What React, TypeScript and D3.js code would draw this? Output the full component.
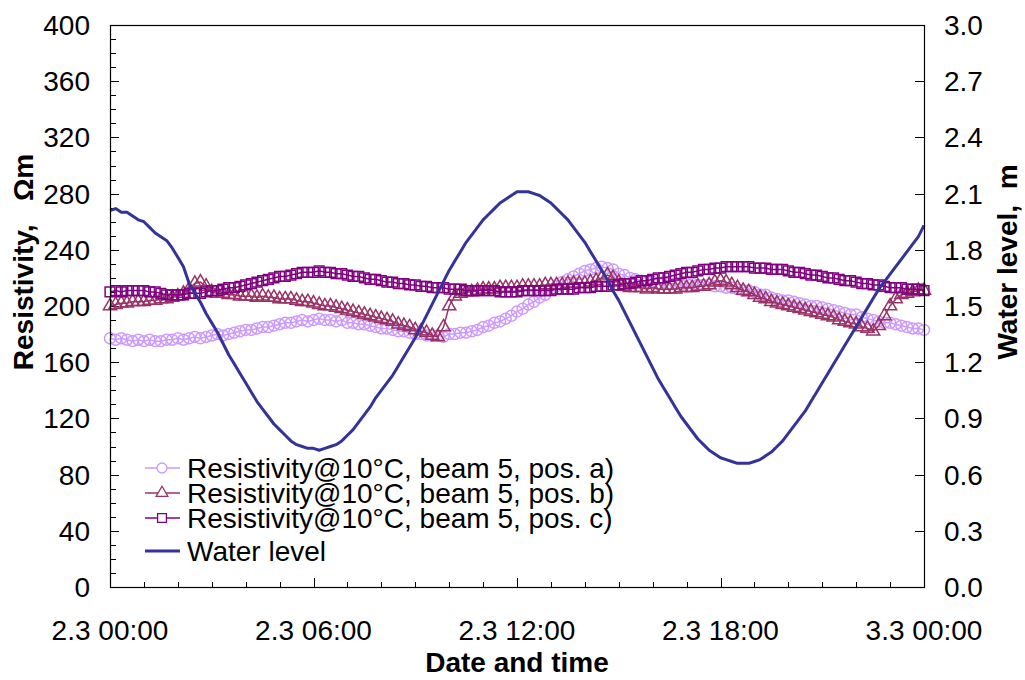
import { useEffect, useRef } from "react";
import * as d3 from "d3";

// x tick labels (every 6 hours)
const xTickLabels = ["2.3 00:00", "2.3 06:00", "2.3 12:00", "2.3 18:00", "3.3 00:00"];

// water level, m — every 10 min from 2.3 00:00 (one row per hour)
const waterLevel = [
  2.01, 2.02, 2.0, 2.0, 1.98, 1.96,
  1.95, 1.92, 1.89, 1.87, 1.85, 1.81,
  1.76, 1.71, 1.62, 1.57, 1.52, 1.46,
  1.41, 1.36, 1.3, 1.24, 1.19, 1.14,
  1.09, 1.04, 0.99, 0.95, 0.91, 0.87,
  0.84, 0.81, 0.78, 0.76, 0.75, 0.74,
  0.74, 0.73, 0.74, 0.75, 0.76, 0.78,
  0.81, 0.84, 0.88, 0.92, 0.96, 1.01,
  1.05, 1.09, 1.13, 1.18, 1.23, 1.28,
  1.33, 1.39, 1.45, 1.51, 1.57, 1.63,
  1.69, 1.74, 1.79, 1.84, 1.88, 1.92,
  1.96, 1.99, 2.02, 2.05, 2.07, 2.09,
  2.11, 2.11, 2.11, 2.1, 2.09, 2.07,
  2.05, 2.02, 1.99, 1.96, 1.92, 1.88,
  1.84, 1.79, 1.74, 1.69, 1.64, 1.58,
  1.53, 1.47, 1.41, 1.35, 1.29, 1.23,
  1.17, 1.11, 1.06, 1.01, 0.96, 0.91,
  0.87, 0.83, 0.79, 0.76, 0.73, 0.71,
  0.69, 0.68, 0.67, 0.66, 0.66, 0.66,
  0.67, 0.68, 0.7, 0.72, 0.75, 0.78,
  0.82, 0.86, 0.9, 0.94, 0.99, 1.04,
  1.09, 1.14, 1.19, 1.24, 1.29, 1.34,
  1.39, 1.44, 1.49, 1.54, 1.59, 1.63,
  1.67, 1.71, 1.75, 1.79, 1.83, 1.87,
  1.93,
];

// resistivity @10°C, Ωm — every 10 min from 2.3 00:00 (one row per hour)
const posA = [
  177, 176, 177, 176, 175, 176,
  175, 176, 175, 175, 176, 176,
  177, 176, 177, 178, 177, 178,
  179, 180, 179, 180, 181, 182,
  183, 183, 184, 185, 185, 186,
  187, 188, 188, 189, 190, 189,
  190, 191, 190, 190, 189, 190,
  188, 188, 187, 187, 186, 185,
  184, 184, 183, 182, 182, 181,
  180, 180, 179, 179, 179, 178,
  180, 180, 181, 181, 182, 183,
  185, 186, 188, 189, 191, 193,
  196, 198, 201, 203, 206, 208,
  212, 214, 217, 219, 221, 223,
  225, 226, 227, 228, 227, 226,
  223, 222, 220, 219, 218, 217,
  217, 216, 217, 216, 216, 215,
  216, 216, 215, 215, 215, 214,
  214, 213, 213, 212, 211, 211,
  210, 208, 208, 206, 205, 204,
  204, 203, 202, 201, 200, 200,
  199, 198, 197, 196, 195, 194,
  194, 192, 191, 190, 189, 188,
  188, 187, 186, 185, 184, 184,
  183,
];
const posB = [
  200, 201, 202, 202, 203, 203,
  203, 204, 204, 205, 205, 206,
  207, 209, 212, 216, 217, 214,
  210, 209, 209, 208, 208, 207,
  207, 207, 206, 207, 206, 206,
  205, 205, 205, 204, 203, 203,
  202, 201, 200, 200, 199, 198,
  197, 196, 195, 194, 193, 192,
  191, 190, 189, 187, 186, 185,
  183, 182, 181, 179, 178, 185,
  200, 207, 209, 210, 210, 211,
  212, 212, 212, 213, 213, 213,
  213, 214, 214, 214, 214, 215,
  215, 215, 215, 216, 216, 216,
  216, 217, 218, 220, 222, 220,
  217, 214, 213, 213, 213, 212,
  213, 212, 212, 212, 212, 213,
  213, 213, 214, 214, 215, 217,
  218, 217, 215, 213, 211, 210,
  208, 206, 205, 203, 202, 201,
  200, 199, 198, 197, 196, 195,
  194, 193, 192, 190, 189, 188,
  187, 185, 184, 182, 186, 193,
  200, 205, 208, 209, 210, 211,
  211,
];
const posC = [
  210, 211, 210, 211, 211, 211,
  211, 210, 210, 209, 208, 208,
  208, 208, 209, 209, 209, 210,
  211, 211, 212, 213, 213, 214,
  215, 216, 217, 218, 219, 220,
  221, 221, 222, 223, 224, 224,
  224, 225, 224, 224, 223, 223,
  222, 221, 221, 220, 219, 219,
  218, 217, 217, 216, 216, 215,
  215, 214, 214, 213, 213, 213,
  212, 212, 212, 211, 211, 211,
  211, 211, 211, 210, 210, 210,
  210, 211, 211, 211, 211, 211,
  211, 212, 212, 212, 212, 213,
  213, 213, 214, 214, 214, 215,
  215, 216, 216, 217, 218, 218,
  219, 220, 220, 221, 222, 223,
  224, 224, 225, 226, 226, 227,
  227, 228, 228, 228, 228, 228,
  227, 227, 227, 226, 226, 226,
  225, 224, 224, 223, 222, 222,
  221, 220, 220, 219, 218, 218,
  217, 216, 216, 215, 215, 214,
  213, 213, 213, 212, 212, 212,
  211,
];

const legendLabels = [
  "Resistivity@10°C, beam 5, pos. a)",
  "Resistivity@10°C, beam 5, pos. b)",
  "Resistivity@10°C, beam 5, pos. c)",
  "Water level",
];

export default function App() {
  const ref = useRef<SVGSVGElement>(null);

  useEffect(() => {
    const W = 1025;
    const H = 680;
    const m = { left: 110, right: 924, top: 25, bottom: 587 };
    const font = "'Liberation Sans', Arial, sans-serif";
    const fs = 28;

    const svg = d3.select(ref.current).attr("width", W).attr("height", H);
    svg.selectAll("*").remove();
    svg.style("font-family", font);

    const x = d3.scaleLinear().domain([0, 24]).range([m.left, m.right]);
    const yL = d3.scaleLinear().domain([0, 400]).range([m.bottom, m.top]);
    const yR = d3.scaleLinear().domain([0, 3]).range([m.bottom, m.top]);
    const step = 1 / 6; // 10 min

    // --- ticks (para dentro)
    const g = svg.append("g").attr("stroke", "#000").attr("stroke-width", 1);
    d3.range(0, 401, 10).forEach((v) => {
      const len = v % 40 === 0 ? 9 : 6;
      g.append("line")
        .attr("x1", m.left).attr("x2", m.left + len)
        .attr("y1", Math.round(yL(v)) + 0.5).attr("y2", Math.round(yL(v)) + 0.5);
    });
    d3.range(0, 11, 1).forEach((i) => {
      const v = i * 0.3;
      g.append("line")
        .attr("x1", m.right - 9).attr("x2", m.right)
        .attr("y1", Math.round(yR(v)) + 0.5).attr("y2", Math.round(yR(v)) + 0.5);
    });
    d3.range(0, 25, 1).forEach((h) => {
      const len = h % 6 === 0 ? 9 : 5;
      g.append("line")
        .attr("x1", Math.round(x(h)) + 0.5).attr("x2", Math.round(x(h)) + 0.5)
        .attr("y1", m.bottom).attr("y2", m.bottom - len);
    });

    // --- rótulos dos ticks
    const txt = svg.append("g").attr("font-size", fs).attr("fill", "#000");
    d3.range(0, 401, 40).forEach((v) => {
      txt.append("text").attr("x", 90).attr("y", yL(v) + 10)
        .attr("text-anchor", "end").text(v);
    });
    d3.range(0, 11, 1).forEach((i) => {
      const v = i * 0.3;
      txt.append("text").attr("x", 944).attr("y", yR(v) + 10)
        .attr("text-anchor", "start").text(v.toFixed(1));
    });
    xTickLabels.forEach((lab, i) => {
      txt.append("text").attr("x", x(i * 6)).attr("y", 640)
        .attr("text-anchor", "middle").text(lab);
    });

    // --- títulos
    svg.append("text")
      .attr("x", 517).attr("y", 672).attr("text-anchor", "middle")
      .attr("font-size", fs).attr("font-weight", "bold").text("Date and time");
    svg.append("text")
      .attr("transform", "translate(33,262) rotate(-90)")
      .attr("text-anchor", "middle").style("white-space", "pre")
      .attr("font-size", fs).attr("font-weight", "bold").text("Resistivity,   Ωm");
    svg.append("text")
      .attr("transform", "translate(1017,262) rotate(-90)")
      .attr("text-anchor", "middle").style("white-space", "pre")
      .attr("font-size", fs).attr("font-weight", "bold").text("Water level,  m");

    // --- séries
    const colors = ["#cc99ff", "#993366", "#800080"];
    const symbols = [
      d3.symbol(d3.symbolCircle, 95),
      d3.symbol(d3.symbolTriangle, 75),
      d3.symbol(d3.symbolSquare, 95),
    ];
    const series = [posA, posB, posC];

    const plot = svg.append("g");
    series.forEach((vals, s) => {
      const pts = vals.map((v, i) => [x(i * step), yL(v)] as [number, number]);
      plot.append("path")
        .attr("d", d3.line()(pts))
        .attr("fill", "none").attr("stroke", colors[s]).attr("stroke-width", 1.5);
      plot.append("g").selectAll("path").data(pts).join("path")
        .attr("transform", (d) => `translate(${d[0]},${d[1]})`)
        .attr("d", symbols[s]() as string)
        .attr("fill", "none").attr("stroke", colors[s]).attr("stroke-width", 1.5);
    });

    const wl = d3.line<number>().x((_, i) => x(i * step)).y((d) => yR(d));
    plot.append("path").attr("d", wl(waterLevel))
      .attr("fill", "none").attr("stroke", "#333399").attr("stroke-width", 3)
      .attr("stroke-linejoin", "round");

    // moldura
    svg.append("rect")
      .attr("x", m.left + 0.5).attr("y", m.top + 0.5)
      .attr("width", m.right - m.left).attr("height", m.bottom - m.top)
      .attr("fill", "none").attr("stroke", "#000").attr("stroke-width", 1.2);

    // --- legenda
    const rowsY = [468, 493, 518, 551];
    const leg = svg.append("g");
    legendLabels.forEach((lab, i) => {
      const cy = rowsY[i];
      const col = i < 3 ? colors[i] : "#333399";
      leg.append("line").attr("x1", 145).attr("x2", 180).attr("y1", cy).attr("y2", cy)
        .attr("stroke", col).attr("stroke-width", i < 3 ? 1.3 : 3);
      if (i < 3) {
        leg.append("path").attr("transform", `translate(162,${cy})`)
          .attr("d", d3.symbol(i === 0 ? d3.symbolCircle : i === 1 ? d3.symbolTriangle : d3.symbolSquare, i === 1 ? 60 : 78)() as string)
          .attr("fill", "#fff").attr("stroke", col).attr("stroke-width", 1.3);
      }
      leg.append("text").attr("x", 187).attr("y", cy + 10)
        .attr("font-size", fs).attr("fill", "#000").text(lab);
    });
  }, []);

  return (
    <svg ref={ref} style={{ position: "absolute", left: 0, top: 0, background: "#fff" }} />
  );
}
